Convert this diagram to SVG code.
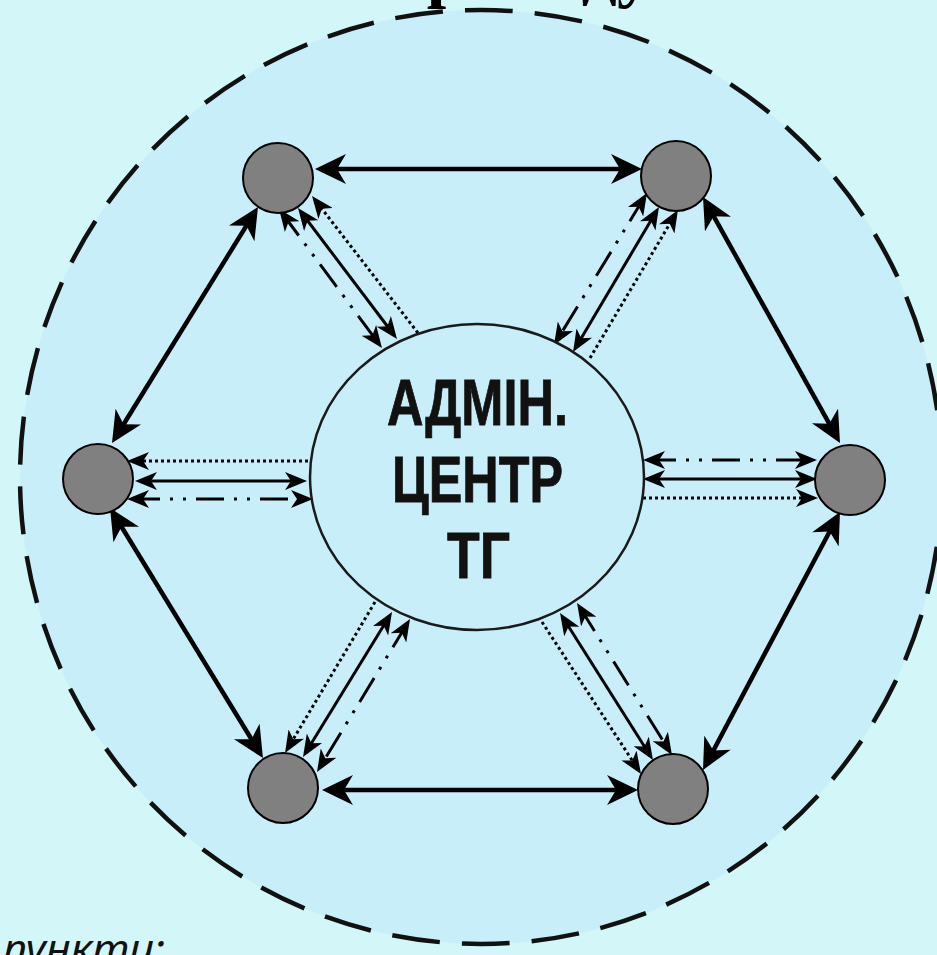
<svg xmlns="http://www.w3.org/2000/svg" width="937" height="955" viewBox="0 0 937 955">
<style>
.edge{stroke:#000;stroke-width:4.5;fill:none;marker-start:url(#bigA);marker-end:url(#bigA)}
.sp{stroke:#000;stroke-width:3;fill:none}
.both{marker-start:url(#smA);marker-end:url(#smA)}
.one{marker-end:url(#smA)}
.dot{stroke-dasharray:3 3}
.dd{stroke-dasharray:28 10 3 10 3 10}
.node{fill:#808080;stroke:#000;stroke-width:2}
.lbl{font-family:"Liberation Sans",Arial,sans-serif;font-weight:bold;font-size:64px;fill:#111;stroke:#111;stroke-width:0.8}
</style>
<defs>
<marker id="bigA" markerUnits="userSpaceOnUse" orient="auto-start-reverse" refX="24" refY="15" markerWidth="32" markerHeight="30">
<path d="M31,15 L0,0 L9,15 L0,30 Z" fill="#000"/>
</marker>
<marker id="smA" markerUnits="userSpaceOnUse" orient="auto-start-reverse" refX="17" refY="9" markerWidth="23" markerHeight="18">
<path d="M22,9 L0,0 L6,9 L0,18 Z" fill="#000"/>
</marker>
</defs>
<rect x="0" y="0" width="937" height="955" fill="#d3f6f8"/>
<text x="395" y="-6" font-family="Liberation Serif,serif" font-weight="bold" font-size="70" fill="#000">громаду</text>
<ellipse id="boundary" cx="481" cy="477" rx="461" ry="467" fill="#c8eefa" stroke="#111" stroke-width="4.5" stroke-dasharray="48 22"/>
<text x="3" y="963" font-family="Noto Sans,sans-serif" font-style="italic" font-size="40" fill="#111" textLength="162" lengthAdjust="spacingAndGlyphs">пункти:</text>
<g id="connectors">
<line class="edge" x1="322" y1="169" x2="635" y2="169"/>
<line class="edge" x1="254.3" y1="213" x2="115.7" y2="437"/>
<line class="edge" x1="113.7" y1="514" x2="259.3" y2="752"/>
<line class="edge" x1="329" y1="790" x2="631" y2="790"/>
<line class="edge" x1="706.3" y1="763.8" x2="836.7" y2="518.2"/>
<line class="edge" x1="706.4" y1="203.1" x2="836.6" y2="436.9"/>
<line class="sp dot one" x1="308" y1="461" x2="132" y2="461"/>
<line class="sp both" x1="140" y1="481" x2="302" y2="481"/>
<line class="sp dd both" x1="132" y1="499" x2="308" y2="499"/>
<line class="sp dd both" x1="648" y1="460" x2="812" y2="460"/>
<line class="sp both" x1="648" y1="479" x2="812" y2="479"/>
<line class="sp dot one" x1="643" y1="498" x2="813" y2="498"/>
<line class="sp dd both" x1="282" y1="213" x2="379" y2="344"/>
<line class="sp both" x1="301" y1="212" x2="394" y2="335"/>
<line class="sp dot one" x1="418" y1="333" x2="315.1" y2="200"/>
<line class="sp dd both" x1="644.4" y1="197.3" x2="556.6" y2="340.7"/>
<line class="sp both" x1="656.4" y1="211.3" x2="575.6" y2="347.7"/>
<line class="sp dot one" x1="590" y1="358" x2="675.4" y2="214.3"/>
<line class="sp dot one" x1="375" y1="602" x2="287.6" y2="748.7"/>
<line class="sp both" x1="389.4" y1="616.3" x2="305.6" y2="752.7"/>
<line class="sp dd both" x1="407.4" y1="623.3" x2="319.6" y2="767.7"/>
<line class="sp dot one" x1="542" y1="622" x2="638.3" y2="769.8"/>
<line class="sp both" x1="562.7" y1="617.2" x2="650.3" y2="755.8"/>
<line class="sp dd both" x1="579.7" y1="607.2" x2="669.3" y2="750.8"/>
</g>
<g id="center">
<ellipse cx="477" cy="477" rx="167" ry="153" fill="#c8eefa" stroke="#1a1a1a" stroke-width="2.5"/>
<text class="lbl" x="387" y="425" textLength="181" lengthAdjust="spacingAndGlyphs">АДМІН.</text>
<text class="lbl" x="392" y="502" textLength="171" lengthAdjust="spacingAndGlyphs">ЦЕНТР</text>
<text class="lbl" x="447" y="578" textLength="63" lengthAdjust="spacingAndGlyphs">ТГ</text>
</g>
<g id="node-tl"><circle class="node" cx="278" cy="178" r="35"/></g>
<g id="node-tr"><circle class="node" cx="676" cy="176" r="35"/></g>
<g id="node-l"><circle class="node" cx="98" cy="479" r="35"/></g>
<g id="node-r"><circle class="node" cx="850" cy="480" r="35"/></g>
<g id="node-bl"><circle class="node" cx="283" cy="788" r="35"/></g>
<g id="node-br"><circle class="node" cx="673" cy="789" r="35"/></g>
</svg>
